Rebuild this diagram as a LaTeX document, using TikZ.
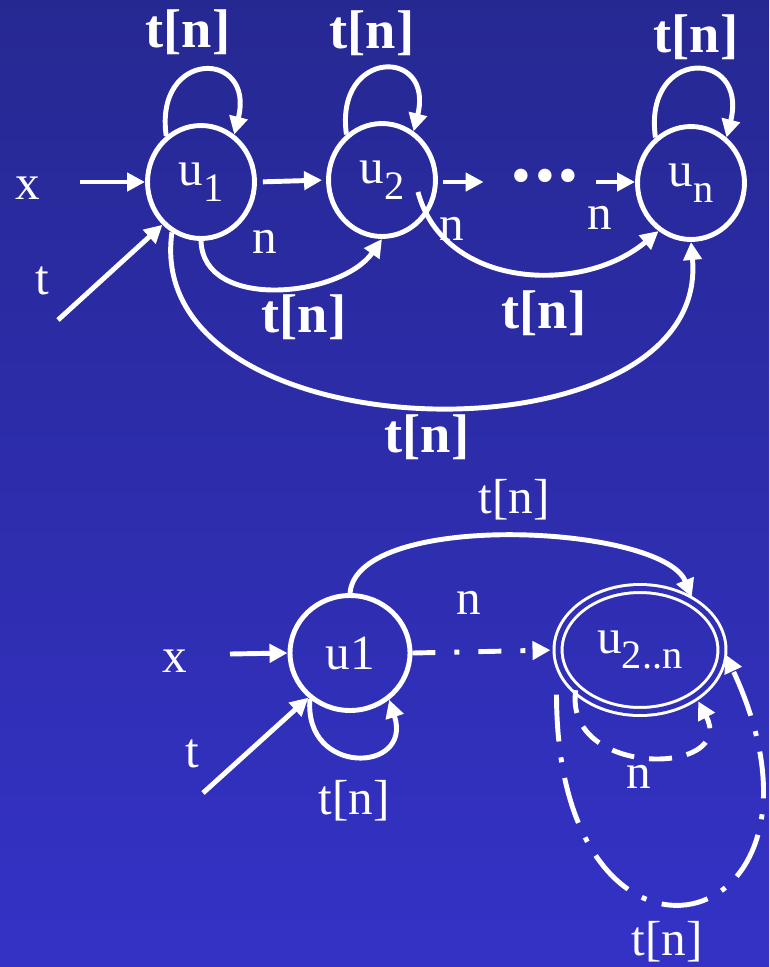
\documentclass[tikz,border=0pt]{standalone}
\usepackage{fontspec}
\setmainfont{Liberation Serif}
\usetikzlibrary{positioning,arrows.meta,shapes.geometric,calc}
\definecolor{slidetop}{RGB}{38,40,146}
\definecolor{slidemid}{RGB}{48,48,182}
\definecolor{slidebot}{RGB}{52,50,198}
\newcommand{\usub}[1]{u\raisebox{-0.32em}{\fontsize{23}{23}\selectfont #1}}
\tikzset{
  state/.style={ellipse, draw=white, line width=2.8pt, minimum width=2.14cm,
    minimum height=2.26cm, inner sep=0pt, text=white,
    font=\fontsize{28}{30}\selectfont},
  lbl/.style={text=white, inner sep=0pt, font=\fontsize{28}{30}\selectfont},
  blbl/.style={text=white, inner sep=0pt, font=\fontsize{31}{33}\selectfont\bfseries},
  arr/.style={draw=white, line width=2.8pt, -{Triangle[length=0.36cm,width=0.36cm]}},
  dashdot/.style={dash pattern=on 0.46cm off 0.38cm on 0.1cm off 0.38cm},
  longdashdot/.style={dash pattern=on 0.94cm off 0.32cm on 0.1cm off 0.32cm},
  shortdash/.style={dash pattern=on 0.46cm off 0.3cm},
}
\begin{document}
\begin{tikzpicture}[x=0.02cm,y=0.02cm]

% slide background
\fill[top color=slidetop, bottom color=slidebot] (0,0) rectangle (769,-967);
\useasboundingbox (0,0) rectangle (769,-967);

% upper automaton
\node[state] (u1) at (201,-182) {\usub{1}};
\node[state] (u2) at (382,-180) {\usub{2}};
\node[state] (un) at (691,-183) {\usub{n}};
\node[text=white, inner xsep=0.36cm, inner ysep=0pt, font=\fontsize{32}{32}\selectfont]
  (dots) at (545,-182) {\textbullet\hspace{2pt}\textbullet\hspace{2pt}\textbullet};
\node[lbl] (x1) at (28,-188) {x};
\node[lbl] (t1) at (42,-281) {t};
\coordinate (x1s) at (80,-182);
\coordinate (t1s) at (58,-320);

\draw[arr] (x1s) -- (u1.west);
\draw[arr] (t1s) -- (u1.228);
\draw[arr, shorten <=0.12cm, shorten >=0.08cm] (u1.east) -- (u2.west);
\draw[arr, shorten <=0.1cm, shorten >=0.2cm] (u2.east |- dots.west) -- (dots.west);
\draw[arr] (dots.east) -- (un.west |- dots.east);

% self loops
\draw[arr] (u1.127) to[out=98,in=76,looseness=3.3] (u1.55);
\draw[arr] (u2.128) to[out=98,in=76,looseness=3.3] (u2.57);
\draw[arr] (un.128) to[out=98,in=76,looseness=3.3] (un.52);

% forward arcs
\draw[arr] (u1.south) to[out=-88,in=-125,looseness=1.0] (u2.south);
\draw[arr] ([xshift=-0.4cm,yshift=-0.24cm]u2.east) to[out=-75,in=-140,looseness=1.05] (un.236);
\draw[arr] (u1.240) to[out=-98,in=-85,looseness=1.12] (un.south);

\node[blbl] (l1) at (188,-32) {t[n]};
\node[blbl] (l2) at (372,-33) {t[n]};
\node[blbl] (l3) at (696,-37) {t[n]};
\node[lbl] (n1) at (265,-242) {n};
\node[lbl] (n2) at (452,-229) {n};
\node[lbl] (n3) at (600,-218) {n};
\node[blbl] (l4) at (304,-317) {t[n]};
\node[blbl] (l5) at (544,-313) {t[n]};
\node[blbl] (l6) at (427,-437) {t[n]};

% lower automaton
\node[state, minimum width=2.4cm, minimum height=2.3cm] (v1) at (350,-653) {u1};
\node[state, line width=0.06cm, double=slidemid, double distance=0.1cm,
  minimum width=3.28cm, minimum height=2.46cm] (vn) at (640,-650) {\usub{2..n}};
\node[lbl] (x2) at (175,-661) {x};
\node[lbl] (t2) at (192,-754) {t};
\coordinate (x2s) at (230,-654);
\coordinate (t2s) at (203,-793);

\draw[arr] (x2s) -- (v1.west);
\draw[arr] (t2s) -- (v1.227);
\draw[arr, dashdot, shorten >=0.12cm] (v1.east) -- (vn.west);
\draw[arr, shorten >=0.1cm] (v1.north) to[out=85,in=112,looseness=0.62] (vn.42);
\draw[arr] (v1.229) to[out=-95,in=-72,looseness=2.5] (v1.310);
\draw[arr, shortdash, shorten >=0.1cm] (vn.-148) to[out=-98,in=-62,looseness=1.9] (vn.-40);
\draw[arr, longdashdot, shorten >=0.1cm] (vn.west |- vn.south west) to[out=-90,in=-65,looseness=4.75] (vn.east);

\node[lbl] (m1) at (469,-603) {n};
\node[lbl] (m2) at (514,-500) {t[n]};
\node[lbl] (m3) at (354,-801) {t[n]};
\node[lbl] (m4) at (639,-777) {n};
\node[lbl] (m5) at (667,-942) {t[n]};

\end{tikzpicture}
\end{document}
